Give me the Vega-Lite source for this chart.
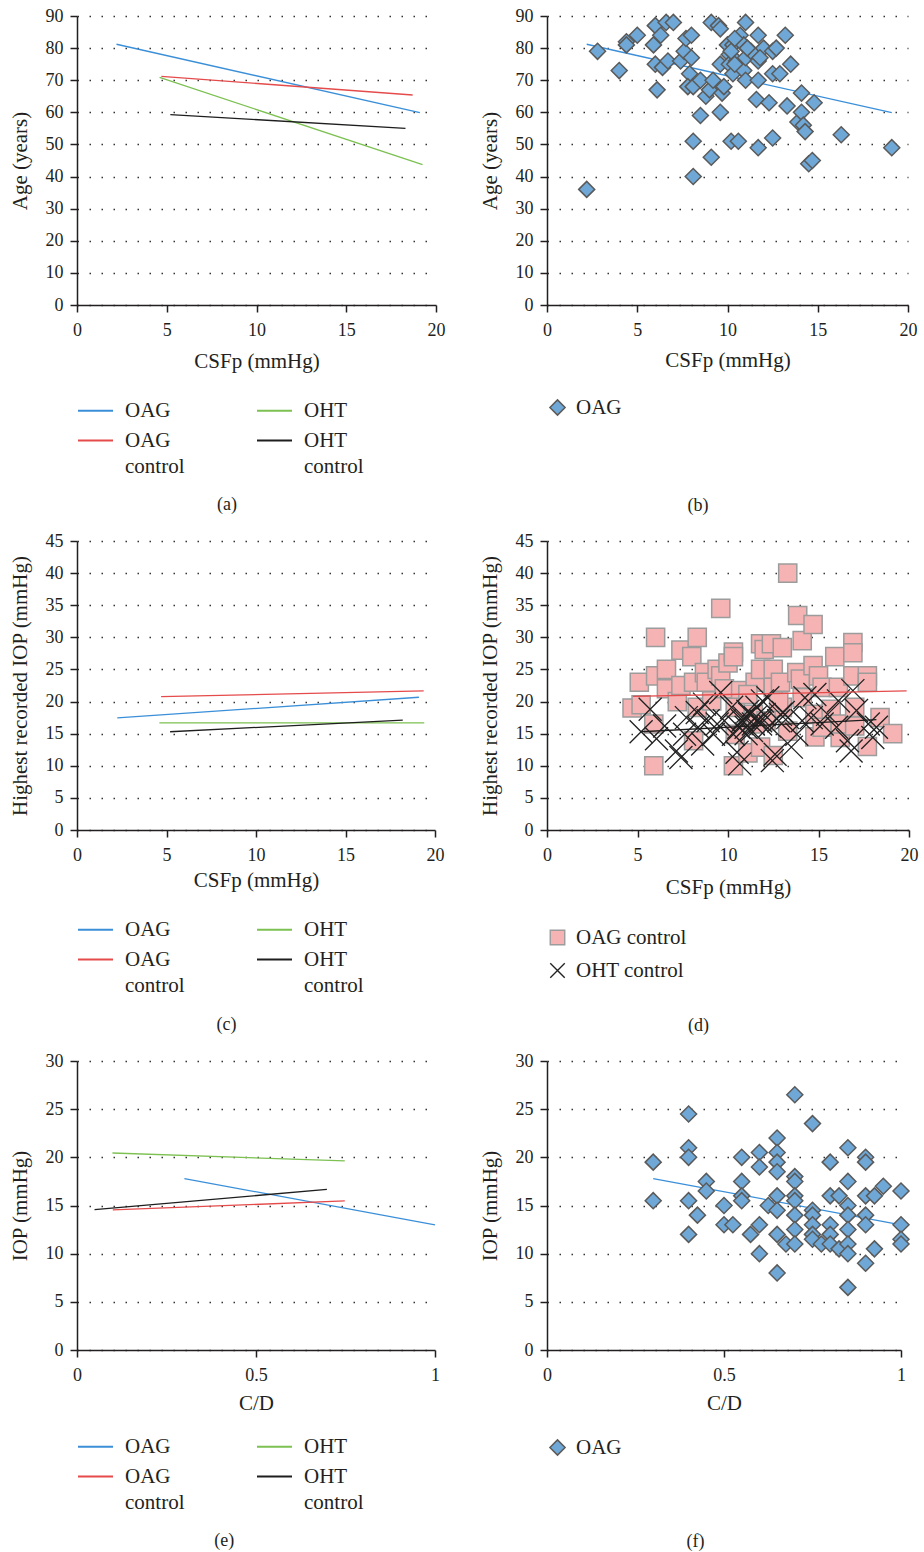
{
  "$schema": "https://vega.github.io/schema/vega-lite/v6.json",
  "padding": {"left": 8, "top": 7, "right": 5, "bottom": 0},
  "background": "white",
  "config": {
    "font": "Liberation Serif",
    "view": {"stroke": null},
    "axis": {"domainColor": "#231f20", "domainWidth": 1.5, "tickColor": "#231f20", "tickWidth": 1.5, "tickSize": 7, "labelFont": "Liberation Serif", "labelFontSize": 18, "labelColor": "#231f20", "titleFont": "Liberation Serif", "titleFontSize": 21, "titleFontWeight": "normal", "titleColor": "#231f20", "grid": false, "labelOverlap": false},
    "axisY": {"grid": true, "gridDash": [1.5, 10.5], "gridColor": "#333333", "gridWidth": 1.3, "labelPadding": 7, "titlePadding": 15},
    "axisX": {"labelPadding": 9, "titlePadding": 11, "labelFlush": false},
    "legend": {"labelFont": "Liberation Serif", "labelFontSize": 21, "labelColor": "#231f20", "orient": "bottom", "title": null, "padding": 0, "labelLimit": 250},
    "title": {"font": "Liberation Serif", "fontSize": 18, "fontWeight": "normal", "color": "#231f20", "orient": "bottom", "frame": "bounds", "anchor": "middle"}
  },
  "resolve": {
    "scale": {"color": "independent", "fill": "independent", "stroke": "independent", "shape": "independent", "size": "independent", "x": "independent", "y": "independent"},
    "legend": {"color": "independent", "fill": "independent", "stroke": "independent", "shape": "independent", "size": "independent"}
  },
  "datasets": {
    "linesA": [
      {"series": "OAG", "csfp": 2.2, "v": 81.2}, {"series": "OAG", "csfp": 19.1, "v": 59.9},
      {"series": "OAG control", "csfp": 4.7, "v": 71.2}, {"series": "OAG control", "csfp": 18.7, "v": 65.4},
      {"series": "OHT", "csfp": 4.6, "v": 70.9}, {"series": "OHT", "csfp": 19.25, "v": 43.7},
      {"series": "OHT control", "csfp": 5.2, "v": 59.3}, {"series": "OHT control", "csfp": 18.3, "v": 55.0}
    ],
    "lineB": [{"csfp": 2.2, "v": 81.2}, {"csfp": 19.1, "v": 59.9}],
    "pointsB": [
      {"g":"OAG","csfp":2.2,"v":36},{"g":"OAG","csfp":2.8,"v":79},{"g":"OAG","csfp":4.0,"v":73},{"g":"OAG","csfp":4.4,"v":82},{"g":"OAG","csfp":4.4,"v":81},
      {"g":"OAG","csfp":5.0,"v":84},{"g":"OAG","csfp":5.9,"v":81},{"g":"OAG","csfp":6.0,"v":87},{"g":"OAG","csfp":6.0,"v":75},{"g":"OAG","csfp":6.1,"v":67},
      {"g":"OAG","csfp":6.3,"v":84},{"g":"OAG","csfp":6.4,"v":74},{"g":"OAG","csfp":6.6,"v":88},{"g":"OAG","csfp":6.7,"v":76},{"g":"OAG","csfp":7.0,"v":88},
      {"g":"OAG","csfp":7.4,"v":76},{"g":"OAG","csfp":7.6,"v":79},{"g":"OAG","csfp":7.7,"v":83},{"g":"OAG","csfp":8.0,"v":77},{"g":"OAG","csfp":8.0,"v":84},
      {"g":"OAG","csfp":7.9,"v":72},{"g":"OAG","csfp":7.8,"v":68},{"g":"OAG","csfp":8.1,"v":68},{"g":"OAG","csfp":8.1,"v":51},{"g":"OAG","csfp":8.1,"v":40},
      {"g":"OAG","csfp":8.5,"v":70},{"g":"OAG","csfp":8.5,"v":59},{"g":"OAG","csfp":8.8,"v":65},{"g":"OAG","csfp":9.0,"v":67},{"g":"OAG","csfp":9.1,"v":88},
      {"g":"OAG","csfp":9.2,"v":70},{"g":"OAG","csfp":9.1,"v":46},{"g":"OAG","csfp":9.5,"v":87},{"g":"OAG","csfp":9.6,"v":86},{"g":"OAG","csfp":9.6,"v":75},
      {"g":"OAG","csfp":9.6,"v":60},{"g":"OAG","csfp":9.7,"v":66},{"g":"OAG","csfp":9.8,"v":68},{"g":"OAG","csfp":10.0,"v":81},{"g":"OAG","csfp":10.1,"v":78},
      {"g":"OAG","csfp":10.1,"v":75},{"g":"OAG","csfp":10.3,"v":81},{"g":"OAG","csfp":10.3,"v":72},{"g":"OAG","csfp":10.2,"v":51},{"g":"OAG","csfp":10.6,"v":51},
      {"g":"OAG","csfp":10.5,"v":76},{"g":"OAG","csfp":10.7,"v":84},{"g":"OAG","csfp":10.9,"v":73},{"g":"OAG","csfp":10.9,"v":81},{"g":"OAG","csfp":11.0,"v":88},
      {"g":"OAG","csfp":11.0,"v":77},{"g":"OAG","csfp":11.0,"v":70},{"g":"OAG","csfp":11.3,"v":79},{"g":"OAG","csfp":11.6,"v":64},{"g":"OAG","csfp":11.7,"v":84},
      {"g":"OAG","csfp":11.7,"v":76},{"g":"OAG","csfp":11.7,"v":70},{"g":"OAG","csfp":11.7,"v":49},{"g":"OAG","csfp":12.0,"v":80},{"g":"OAG","csfp":12.3,"v":63},
      {"g":"OAG","csfp":12.5,"v":79},{"g":"OAG","csfp":12.5,"v":72},{"g":"OAG","csfp":12.5,"v":52},{"g":"OAG","csfp":12.7,"v":80},{"g":"OAG","csfp":12.9,"v":72},
      {"g":"OAG","csfp":13.2,"v":84},{"g":"OAG","csfp":13.3,"v":62},{"g":"OAG","csfp":13.5,"v":75},{"g":"OAG","csfp":13.9,"v":57},{"g":"OAG","csfp":14.1,"v":66},
      {"g":"OAG","csfp":14.1,"v":60},{"g":"OAG","csfp":14.2,"v":56},{"g":"OAG","csfp":14.3,"v":54},{"g":"OAG","csfp":14.5,"v":44},{"g":"OAG","csfp":14.7,"v":45},
      {"g":"OAG","csfp":14.8,"v":63},{"g":"OAG","csfp":16.3,"v":53},{"g":"OAG","csfp":19.1,"v":49},{"g":"OAG","csfp":10.4,"v":83},{"g":"OAG","csfp":10.2,"v":79},
      {"g":"OAG","csfp":11.1,"v":80},{"g":"OAG","csfp":11.8,"v":77},{"g":"OAG","csfp":10.4,"v":75}
    ],
    "linesC": [
      {"series": "OAG", "csfp": 2.25, "v": 17.45}, {"series": "OAG", "csfp": 19.1, "v": 20.67},
      {"series": "OAG control", "csfp": 4.7, "v": 20.76}, {"series": "OAG control", "csfp": 19.37, "v": 21.65},
      {"series": "OHT", "csfp": 4.6, "v": 16.67}, {"series": "OHT", "csfp": 19.4, "v": 16.67},
      {"series": "OHT control", "csfp": 5.2, "v": 15.3}, {"series": "OHT control", "csfp": 18.2, "v": 17.1}
    ],
    "linesD": [
      {"series": "OAG control", "csfp": 4.76, "v": 20.8}, {"series": "OAG control", "csfp": 19.87, "v": 21.67},
      {"series": "OHT control", "csfp": 5.2, "v": 15.3}, {"series": "OHT control", "csfp": 18.2, "v": 17.2}
    ],
    "pointsD": [
      {"s":"OAG control","csfp":4.7,"v":19},{"s":"OAG control","csfp":5.1,"v":23},{"s":"OAG control","csfp":5.2,"v":19.5},{"s":"OAG control","csfp":5.9,"v":10},
      {"s":"OAG control","csfp":5.9,"v":16.5},{"s":"OAG control","csfp":6.0,"v":30},{"s":"OAG control","csfp":6.0,"v":24},{"s":"OAG control","csfp":6.6,"v":25},
      {"s":"OAG control","csfp":6.6,"v":22},{"s":"OAG control","csfp":7.2,"v":20},{"s":"OAG control","csfp":7.4,"v":28},{"s":"OAG control","csfp":7.4,"v":22.5},
      {"s":"OAG control","csfp":8.0,"v":27},{"s":"OAG control","csfp":8.1,"v":23},{"s":"OAG control","csfp":8.1,"v":13.9},{"s":"OAG control","csfp":8.3,"v":30},
      {"s":"OAG control","csfp":8.3,"v":19.1},{"s":"OAG control","csfp":8.7,"v":24.5},{"s":"OAG control","csfp":8.8,"v":23},{"s":"OAG control","csfp":9.1,"v":20.1},
      {"s":"OAG control","csfp":9.4,"v":25},{"s":"OAG control","csfp":9.6,"v":34.5},{"s":"OAG control","csfp":9.6,"v":24},{"s":"OAG control","csfp":9.8,"v":22},
      {"s":"OAG control","csfp":10.0,"v":26},{"s":"OAG control","csfp":10.3,"v":27.7},{"s":"OAG control","csfp":10.3,"v":27},{"s":"OAG control","csfp":10.3,"v":10},
      {"s":"OAG control","csfp":10.4,"v":14.9},{"s":"OAG control","csfp":10.7,"v":21.7},{"s":"OAG control","csfp":11.1,"v":12},{"s":"OAG control","csfp":11.5,"v":23},
      {"s":"OAG control","csfp":11.8,"v":25},{"s":"OAG control","csfp":11.8,"v":29},{"s":"OAG control","csfp":11.8,"v":12.9},{"s":"OAG control","csfp":12.0,"v":28.1},
      {"s":"OAG control","csfp":12.4,"v":29},{"s":"OAG control","csfp":12.5,"v":25},{"s":"OAG control","csfp":12.5,"v":22.2},{"s":"OAG control","csfp":12.5,"v":11.6},
      {"s":"OAG control","csfp":12.9,"v":23},{"s":"OAG control","csfp":13.0,"v":28.4},{"s":"OAG control","csfp":13.0,"v":19.1},{"s":"OAG control","csfp":13.3,"v":40},
      {"s":"OAG control","csfp":13.3,"v":15.4},{"s":"OAG control","csfp":13.85,"v":33.4},{"s":"OAG control","csfp":13.8,"v":24.5},{"s":"OAG control","csfp":14.0,"v":23.5},
      {"s":"OAG control","csfp":14.1,"v":29.5},{"s":"OAG control","csfp":14.1,"v":20.6},{"s":"OAG control","csfp":14.7,"v":32},{"s":"OAG control","csfp":14.7,"v":25.6},
      {"s":"OAG control","csfp":14.8,"v":18},{"s":"OAG control","csfp":14.8,"v":14.5},{"s":"OAG control","csfp":15.0,"v":24},{"s":"OAG control","csfp":15.2,"v":22.2},
      {"s":"OAG control","csfp":15.2,"v":16},{"s":"OAG control","csfp":15.7,"v":18.8},{"s":"OAG control","csfp":15.9,"v":27},{"s":"OAG control","csfp":16.1,"v":22.2},
      {"s":"OAG control","csfp":16.2,"v":14.4},{"s":"OAG control","csfp":16.2,"v":16.5},{"s":"OAG control","csfp":16.9,"v":29.2},{"s":"OAG control","csfp":16.9,"v":27.6},
      {"s":"OAG control","csfp":16.9,"v":24},{"s":"OAG control","csfp":17.0,"v":19.1},{"s":"OAG control","csfp":17.0,"v":16.2},{"s":"OAG control","csfp":17.7,"v":24},
      {"s":"OAG control","csfp":17.7,"v":23},{"s":"OAG control","csfp":17.7,"v":13},{"s":"OAG control","csfp":18.4,"v":17.5},{"s":"OAG control","csfp":19.1,"v":15},
      {"s":"OAG control","csfp":10.4,"v":19.1},{"s":"OAG control","csfp":11.1,"v":21.1},{"s":"OAG control","csfp":11.4,"v":18},{"s":"OAG control","csfp":12.1,"v":17},
      {"s":"OAG control","csfp":12.8,"v":19.9},{"s":"OAG control","csfp":11.5,"v":16.5},
      {"s":"OHT control","csfp":5.2,"v":15.3},{"s":"OHT control","csfp":5.7,"v":18.8},{"s":"OHT control","csfp":6.05,"v":14.2},{"s":"OHT control","csfp":6.5,"v":16.2},
      {"s":"OHT control","csfp":7.15,"v":12.3},{"s":"OHT control","csfp":7.4,"v":11.3},{"s":"OHT control","csfp":7.6,"v":14.9},{"s":"OHT control","csfp":7.7,"v":17.5},
      {"s":"OHT control","csfp":8.3,"v":18.3},{"s":"OHT control","csfp":8.35,"v":16},{"s":"OHT control","csfp":8.6,"v":13.4},{"s":"OHT control","csfp":8.7,"v":19.6},
      {"s":"OHT control","csfp":8.9,"v":17},{"s":"OHT control","csfp":9.2,"v":14.9},{"s":"OHT control","csfp":9.4,"v":16.5},{"s":"OHT control","csfp":9.6,"v":21.4},
      {"s":"OHT control","csfp":9.8,"v":17},{"s":"OHT control","csfp":10.2,"v":19.1},{"s":"OHT control","csfp":10.3,"v":14.9},{"s":"OHT control","csfp":10.5,"v":12.1},
      {"s":"OHT control","csfp":10.65,"v":10.3},{"s":"OHT control","csfp":10.8,"v":17},{"s":"OHT control","csfp":11.0,"v":16},{"s":"OHT control","csfp":11.2,"v":18},
      {"s":"OHT control","csfp":11.4,"v":16.5},{"s":"OHT control","csfp":11.6,"v":19.1},{"s":"OHT control","csfp":11.8,"v":17},{"s":"OHT control","csfp":11.9,"v":20.1},
      {"s":"OHT control","csfp":12.2,"v":20.6},{"s":"OHT control","csfp":12.45,"v":10.8},{"s":"OHT control","csfp":12.6,"v":11.8},{"s":"OHT control","csfp":12.8,"v":17},
      {"s":"OHT control","csfp":13.05,"v":18.3},{"s":"OHT control","csfp":13.3,"v":17.5},{"s":"OHT control","csfp":13.5,"v":12.9},{"s":"OHT control","csfp":13.8,"v":14.9},
      {"s":"OHT control","csfp":14.1,"v":17},{"s":"OHT control","csfp":14.25,"v":20.6},{"s":"OHT control","csfp":14.6,"v":17.5},{"s":"OHT control","csfp":14.8,"v":21.1},
      {"s":"OHT control","csfp":15.2,"v":16.5},{"s":"OHT control","csfp":15.5,"v":18},{"s":"OHT control","csfp":16.0,"v":16},{"s":"OHT control","csfp":16.1,"v":20.1},
      {"s":"OHT control","csfp":16.6,"v":13.9},{"s":"OHT control","csfp":16.8,"v":12.3},{"s":"OHT control","csfp":16.9,"v":21.7},{"s":"OHT control","csfp":17.1,"v":18.6},
      {"s":"OHT control","csfp":17.75,"v":16.5},{"s":"OHT control","csfp":18.0,"v":14.4},{"s":"OHT control","csfp":18.2,"v":16},{"s":"OHT control","csfp":10.9,"v":17.5},
      {"s":"OHT control","csfp":11.1,"v":18.5},{"s":"OHT control","csfp":11.3,"v":15.5},{"s":"OHT control","csfp":11.5,"v":17.5},{"s":"OHT control","csfp":11.8,"v":16.5},
      {"s":"OHT control","csfp":12.0,"v":18},{"s":"OHT control","csfp":10.6,"v":16},{"s":"OHT control","csfp":11.0,"v":15},{"s":"OHT control","csfp":12.3,"v":16.2},
      {"s":"OHT control","csfp":12.9,"v":18}
    ],
    "linesE": [
      {"series": "OAG", "cd": 0.30, "v": 17.8}, {"series": "OAG", "cd": 1.0, "v": 12.98},
      {"series": "OAG control", "cd": 0.10, "v": 14.54}, {"series": "OAG control", "cd": 0.748, "v": 15.47},
      {"series": "OHT", "cd": 0.099, "v": 20.45}, {"series": "OHT", "cd": 0.748, "v": 19.63},
      {"series": "OHT control", "cd": 0.049, "v": 14.57}, {"series": "OHT control", "cd": 0.698, "v": 16.67}
    ],
    "lineF": [{"cd": 0.30, "v": 17.8}, {"cd": 1.0, "v": 13.0}],
    "pointsF": [
      {"g":"OAG","cd":0.30,"v":19.5},{"g":"OAG","cd":0.30,"v":15.5},{"g":"OAG","cd":0.40,"v":24.5},{"g":"OAG","cd":0.40,"v":21.0},{"g":"OAG","cd":0.40,"v":20.0},
      {"g":"OAG","cd":0.40,"v":15.5},{"g":"OAG","cd":0.40,"v":12.0},{"g":"OAG","cd":0.425,"v":14.0},{"g":"OAG","cd":0.45,"v":17.5},{"g":"OAG","cd":0.45,"v":16.5},
      {"g":"OAG","cd":0.50,"v":15.0},{"g":"OAG","cd":0.50,"v":13.0},{"g":"OAG","cd":0.525,"v":13.0},{"g":"OAG","cd":0.55,"v":20.0},{"g":"OAG","cd":0.55,"v":17.5},
      {"g":"OAG","cd":0.55,"v":16.0},{"g":"OAG","cd":0.55,"v":15.5},{"g":"OAG","cd":0.575,"v":12.0},{"g":"OAG","cd":0.60,"v":20.5},{"g":"OAG","cd":0.60,"v":19.0},
      {"g":"OAG","cd":0.60,"v":13.0},{"g":"OAG","cd":0.60,"v":10.0},{"g":"OAG","cd":0.625,"v":15.0},{"g":"OAG","cd":0.65,"v":22.0},{"g":"OAG","cd":0.65,"v":20.5},
      {"g":"OAG","cd":0.65,"v":19.5},{"g":"OAG","cd":0.65,"v":18.5},{"g":"OAG","cd":0.65,"v":16.0},{"g":"OAG","cd":0.65,"v":14.5},{"g":"OAG","cd":0.65,"v":12.0},
      {"g":"OAG","cd":0.65,"v":8.0},{"g":"OAG","cd":0.675,"v":11.0},{"g":"OAG","cd":0.70,"v":26.5},{"g":"OAG","cd":0.70,"v":18.0},{"g":"OAG","cd":0.70,"v":17.5},
      {"g":"OAG","cd":0.70,"v":16.0},{"g":"OAG","cd":0.70,"v":15.5},{"g":"OAG","cd":0.70,"v":14.0},{"g":"OAG","cd":0.70,"v":12.5},{"g":"OAG","cd":0.70,"v":11.0},
      {"g":"OAG","cd":0.75,"v":23.5},{"g":"OAG","cd":0.75,"v":14.5},{"g":"OAG","cd":0.75,"v":14.0},{"g":"OAG","cd":0.75,"v":13.0},{"g":"OAG","cd":0.75,"v":12.0},
      {"g":"OAG","cd":0.75,"v":11.5},{"g":"OAG","cd":0.775,"v":11.0},{"g":"OAG","cd":0.80,"v":19.5},{"g":"OAG","cd":0.80,"v":16.0},{"g":"OAG","cd":0.80,"v":13.0},
      {"g":"OAG","cd":0.80,"v":12.0},{"g":"OAG","cd":0.80,"v":11.0},{"g":"OAG","cd":0.825,"v":16.0},{"g":"OAG","cd":0.825,"v":10.5},{"g":"OAG","cd":0.85,"v":21.0},
      {"g":"OAG","cd":0.85,"v":17.5},{"g":"OAG","cd":0.85,"v":15.0},{"g":"OAG","cd":0.85,"v":14.0},{"g":"OAG","cd":0.85,"v":12.5},{"g":"OAG","cd":0.85,"v":11.0},
      {"g":"OAG","cd":0.85,"v":10.0},{"g":"OAG","cd":0.85,"v":6.5},{"g":"OAG","cd":0.90,"v":20.0},{"g":"OAG","cd":0.90,"v":19.5},{"g":"OAG","cd":0.90,"v":16.0},
      {"g":"OAG","cd":0.90,"v":14.0},{"g":"OAG","cd":0.90,"v":13.0},{"g":"OAG","cd":0.90,"v":9.0},{"g":"OAG","cd":0.925,"v":16.0},{"g":"OAG","cd":0.925,"v":10.5},
      {"g":"OAG","cd":0.95,"v":17.0},{"g":"OAG","cd":1.0,"v":16.5},{"g":"OAG","cd":1.0,"v":13.0},{"g":"OAG","cd":1.0,"v":11.5},{"g":"OAG","cd":1.0,"v":11.0}
    ]
  },
  "spacing": 17,
  "vconcat": [
    {
      "spacing": 34,
      "resolve": {
        "scale": {"color": "independent", "fill": "independent", "stroke": "independent", "shape": "independent", "size": "independent", "x": "independent", "y": "independent"},
        "legend": {"color": "independent", "fill": "independent", "stroke": "independent", "shape": "independent", "size": "independent"}
      },
      "hconcat": [
        {
          "width": 359, "height": 289,
          "title": {"text": "(a)", "offset": 19},
          "data": {"name": "linesA"},
          "mark": {"type": "line", "strokeWidth": 1.3},
          "encoding": {
            "x": {"field": "csfp", "type": "quantitative", "scale": {"domain": [0, 20], "nice": false}, "axis": {"values": [0, 5, 10, 15, 20], "title": "CSFp (mmHg)", "titlePadding": 11}},
            "y": {"field": "v", "type": "quantitative", "scale": {"domain": [0, 90], "nice": false}, "axis": {"values": [0, 10, 20, 30, 40, 50, 60, 70, 80, 90], "title": "Age (years)"}},
            "color": {"field": "series", "type": "nominal", "sort": null,
              "scale": {"domain": ["OAG", "OHT", "OAG control", "OHT control"], "range": ["#3a8fd8", "#7cc152", "#e54b4b", "#1e1e1e"]},
              "legend": {"columns": 2, "direction": "horizontal", "symbolType": "stroke", "symbolSize": 1225, "symbolStrokeWidth": 2, "labelOffset": 11, "columnPadding": 68, "rowPadding": 1, "offset": 21,
                "labelExpr": "datum.label == 'OAG control' ? ['OAG', 'control'] : datum.label == 'OHT control' ? ['OHT', 'control'] : datum.label",
                "encode": {"labels": {"update": {"lineHeight": {"value": 26}}}}}}
          }
        },
        {
          "width": 361, "height": 289,
          "title": {"text": "(b)", "offset": 78},
          "encoding": {
            "x": {"field": "csfp", "type": "quantitative", "scale": {"domain": [0, 20], "nice": false}, "axis": {"values": [0, 5, 10, 15, 20], "title": "CSFp (mmHg)", "titlePadding": 10}},
            "y": {"field": "v", "type": "quantitative", "scale": {"domain": [0, 90], "nice": false}, "axis": {"values": [0, 10, 20, 30, 40, 50, 60, 70, 80, 90], "title": "Age (years)"}}
          },
          "layer": [
            {
              "data": {"name": "lineB"},
              "mark": {"type": "line", "strokeWidth": 1.3, "color": "#3a8fd8"}
            },
            {
              "data": {"name": "pointsB"},
              "mark": {"type": "point", "shape": "diamond", "filled": true, "size": 256, "stroke": "#5a5a5a", "strokeWidth": 1.5, "opacity": 1},
              "encoding": {
                "color": {"field": "g", "type": "nominal", "scale": {"domain": ["OAG"], "range": ["#6fa8d6"]},
                  "legend": {"symbolType": "diamond", "symbolSize": 230, "symbolStrokeColor": "#5a5a5a", "symbolStrokeWidth": 1.5, "labelOffset": 8, "offset": 27}}
              }
            }
          ]
        }
      ]
    },
    {
      "spacing": 34,
      "resolve": {
        "scale": {"color": "independent", "fill": "independent", "stroke": "independent", "shape": "independent", "size": "independent", "x": "independent", "y": "independent"},
        "legend": {"color": "independent", "fill": "independent", "stroke": "independent", "shape": "independent", "size": "independent"}
      },
      "hconcat": [
        {
          "width": 358, "height": 289,
          "title": {"text": "(c)", "offset": 20},
          "data": {"name": "linesC"},
          "mark": {"type": "line", "strokeWidth": 1.3},
          "encoding": {
            "x": {"field": "csfp", "type": "quantitative", "scale": {"domain": [0, 20], "nice": false}, "axis": {"values": [0, 5, 10, 15, 20], "title": "CSFp (mmHg)", "titlePadding": 5}},
            "y": {"field": "v", "type": "quantitative", "scale": {"domain": [0, 45], "nice": false}, "axis": {"values": [0, 5, 10, 15, 20, 25, 30, 35, 40, 45], "title": "Highest recorded IOP (mmHg)"}},
            "color": {"field": "series", "type": "nominal", "sort": null,
              "scale": {"domain": ["OAG", "OHT", "OAG control", "OHT control"], "range": ["#3a8fd8", "#7cc152", "#e54b4b", "#1e1e1e"]},
              "legend": {"columns": 2, "direction": "horizontal", "symbolType": "stroke", "symbolSize": 1225, "symbolStrokeWidth": 2, "labelOffset": 11, "columnPadding": 68, "rowPadding": 1, "offset": 21,
                "labelExpr": "datum.label == 'OAG control' ? ['OAG', 'control'] : datum.label == 'OHT control' ? ['OHT', 'control'] : datum.label",
                "encode": {"labels": {"update": {"lineHeight": {"value": 26}}}}}}
          }
        },
        {
          "width": 362, "height": 289,
          "title": {"text": "(d)", "offset": 36},
          "encoding": {
            "x": {"field": "csfp", "type": "quantitative", "scale": {"domain": [0, 20], "nice": false}, "axis": {"values": [0, 5, 10, 15, 20], "title": "CSFp (mmHg)", "titlePadding": 12}},
            "y": {"field": "v", "type": "quantitative", "scale": {"domain": [0, 45], "nice": false}, "axis": {"values": [0, 5, 10, 15, 20, 25, 30, 35, 40, 45], "title": "Highest recorded IOP (mmHg)"}}
          },
          "layer": [
            {
              "data": {"name": "pointsD"},
              "transform": [{"filter": "datum.s == 'OAG control'"}],
              "mark": {"type": "point", "filled": true, "strokeWidth": 1.5, "size": 330, "opacity": 1},
              "encoding": {
                "shape": {"field": "s", "type": "nominal", "scale": {"domain": ["OAG control", "OHT control"], "range": ["square", "M-1,-1L1,1M-1,1L1,-1"]},
                  "legend": {"direction": "vertical", "symbolSize": 210, "symbolStrokeWidth": 1.4, "labelOffset": 8, "rowPadding": 11, "offset": 30,
                    "encode": {"symbols": {"update": {"fill": {"signal": "datum.value == 'OAG control' ? '#f5b3b3' : 'transparent'"}, "stroke": {"signal": "datum.value == 'OAG control' ? '#9c9c9c' : '#222222'"}, "opacity": {"value": 1}}}}}},
                "fill": {"field": "s", "type": "nominal", "scale": {"domain": ["OAG control", "OHT control"], "range": ["#f5b3b3", "transparent"]}, "legend": null},
                "stroke": {"field": "s", "type": "nominal", "scale": {"domain": ["OAG control", "OHT control"], "range": ["#9c9c9c", "#222222"]}, "legend": null}
              }
            },
            {
              "data": {"name": "pointsD"},
              "transform": [{"filter": "datum.s == 'OHT control'"}],
              "mark": {"type": "point", "filled": true, "strokeWidth": 1.3, "size": 530, "opacity": 1},
              "encoding": {
                "shape": {"field": "s", "type": "nominal"},
                "fill": {"field": "s", "type": "nominal", "legend": null},
                "stroke": {"field": "s", "type": "nominal", "legend": null}
              }
            },
            {
              "data": {"name": "linesD"},
              "mark": {"type": "line", "strokeWidth": 1.3},
              "encoding": {
                "color": {"condition": {"test": "datum.series == 'OAG control'", "value": "#e54b4b"}, "value": "#1e1e1e"},
                "detail": {"field": "series", "type": "nominal"}
              }
            }
          ]
        }
      ]
    },
    {
      "spacing": 39,
      "resolve": {
        "scale": {"color": "independent", "fill": "independent", "stroke": "independent", "shape": "independent", "size": "independent", "x": "independent", "y": "independent"},
        "legend": {"color": "independent", "fill": "independent", "stroke": "independent", "shape": "independent", "size": "independent"}
      },
      "hconcat": [
        {
          "width": 358, "height": 289,
          "title": {"text": "(e)", "offset": 19},
          "data": {"name": "linesE"},
          "mark": {"type": "line", "strokeWidth": 1.3},
          "encoding": {
            "x": {"field": "cd", "type": "quantitative", "scale": {"domain": [0, 1], "nice": false}, "axis": {"values": [0, 0.5, 1], "format": "~g", "title": "C/D", "titlePadding": 8}},
            "y": {"field": "v", "type": "quantitative", "scale": {"domain": [0, 30], "nice": false}, "axis": {"values": [0, 5, 10, 15, 20, 25, 30], "title": "IOP (mmHg)"}},
            "color": {"field": "series", "type": "nominal", "sort": null,
              "scale": {"domain": ["OAG", "OHT", "OAG control", "OHT control"], "range": ["#3a8fd8", "#7cc152", "#e54b4b", "#1e1e1e"]},
              "legend": {"columns": 2, "direction": "horizontal", "symbolType": "stroke", "symbolSize": 1225, "symbolStrokeWidth": 2, "labelOffset": 11, "columnPadding": 68, "rowPadding": 1, "offset": 15,
                "labelExpr": "datum.label == 'OAG control' ? ['OAG', 'control'] : datum.label == 'OHT control' ? ['OHT', 'control'] : datum.label",
                "encode": {"labels": {"update": {"lineHeight": {"value": 26}}}}}}
          }
        },
        {
          "width": 354, "height": 289,
          "title": {"text": "(f)", "offset": 74},
          "encoding": {
            "x": {"field": "cd", "type": "quantitative", "scale": {"domain": [0, 1], "nice": false}, "axis": {"values": [0, 0.5, 1], "format": "~g", "title": "C/D", "titlePadding": 8}},
            "y": {"field": "v", "type": "quantitative", "scale": {"domain": [0, 30], "nice": false}, "axis": {"values": [0, 5, 10, 15, 20, 25, 30], "title": "IOP (mmHg)"}}
          },
          "layer": [
            {
              "data": {"name": "lineF"},
              "mark": {"type": "line", "strokeWidth": 1.3, "color": "#3a8fd8"}
            },
            {
              "data": {"name": "pointsF"},
              "mark": {"type": "point", "shape": "diamond", "filled": true, "size": 256, "stroke": "#5a5a5a", "strokeWidth": 1.5, "opacity": 1},
              "encoding": {
                "color": {"field": "g", "type": "nominal", "scale": {"domain": ["OAG"], "range": ["#6fa8d6"]},
                  "legend": {"symbolType": "diamond", "symbolSize": 230, "symbolStrokeColor": "#5a5a5a", "symbolStrokeWidth": 1.5, "labelOffset": 8, "offset": 24}}
              }
            }
          ]
        }
      ]
    }
  ]
}
